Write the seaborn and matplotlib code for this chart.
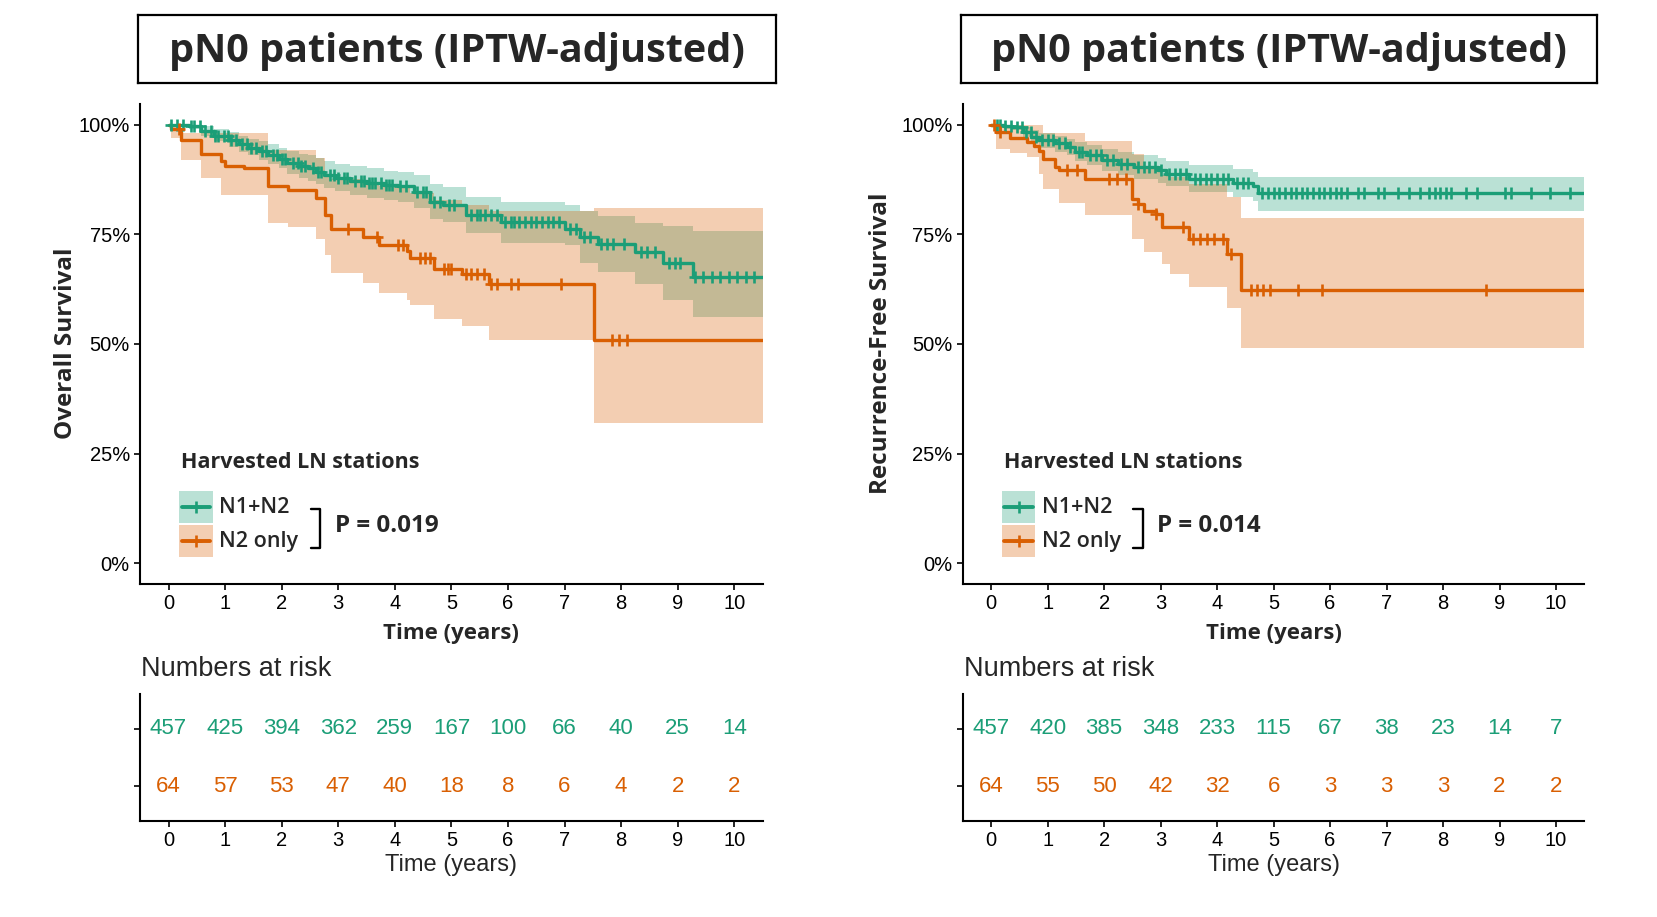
import numpy as np
import pandas as pd
import seaborn as sns
import matplotlib.pyplot as plt
from matplotlib.patches import Rectangle

GREEN = "#1B9E77"
ORANGE = "#D95F02"
BOLD = ["Open Sans", "DejaVu Sans"]

groups = ["N1+N2", "N2 only"]
risk_times = [0, 1, 2, 3, 4, 5, 6, 7, 8, 9, 10]

# ---- overall survival (left panel)
os_g_time = [0, 0.36, 0.57, 0.8, 1.06, 1.25, 1.41, 1.6, 1.76, 1.95, 2.1, 2.3, 2.46, 2.6, 2.74, 2.95,
             3.2, 3.5, 3.8, 4.06, 4.34, 4.62, 4.85, 5.25, 5.88, 7.0, 7.28, 7.59, 8.25, 8.74, 9.27, 10.5]
os_g_surv = [1.0, 0.996, 0.985, 0.975, 0.965, 0.955, 0.947, 0.94, 0.931, 0.922, 0.912, 0.905, 0.9, 0.893, 0.885, 0.878,
             0.872, 0.866, 0.862, 0.859, 0.847, 0.824, 0.817, 0.794, 0.779, 0.763, 0.744, 0.727, 0.71, 0.685, 0.653, 0.653]
os_g_upper = [1.0, 1.0, 0.997, 0.99, 0.982, 0.974, 0.968, 0.962, 0.955, 0.947, 0.94, 0.934, 0.93, 0.924, 0.917, 0.91,
              0.906, 0.9, 0.895, 0.892, 0.885, 0.865, 0.858, 0.836, 0.824, 0.817, 0.804, 0.792, 0.775, 0.77, 0.758, 0.758]
os_g_lower = [1.0, 0.99, 0.975, 0.962, 0.95, 0.938, 0.93, 0.92, 0.91, 0.9, 0.888, 0.878, 0.872, 0.864, 0.855, 0.848,
              0.84, 0.833, 0.828, 0.823, 0.81, 0.785, 0.777, 0.753, 0.73, 0.725, 0.685, 0.663, 0.637, 0.6, 0.561, 0.561]
os_g_cens = [0.05, 0.15, 0.25, 0.4, 0.45, 0.55, 0.65, 0.75, 0.82, 0.88, 0.98, 1.05, 1.1, 1.2, 1.3, 1.38, 1.45,
             1.55, 1.65, 1.72, 1.85, 1.92, 2.0, 2.05, 2.2, 2.28, 2.35, 2.42, 2.55, 2.65, 2.7, 2.85, 2.92, 3.0,
             3.1, 3.15, 3.3, 3.4, 3.45, 3.55, 3.6, 3.65, 3.75, 3.85, 3.9, 3.95, 4.1, 4.2, 4.4, 4.5, 4.55, 4.7,
             4.8, 4.95, 5.05, 5.35, 5.45, 5.5, 5.6, 5.7, 5.8, 5.95, 6.05, 6.1, 6.2, 6.3, 6.4, 6.5, 6.6, 6.7,
             6.8, 6.9, 7.1, 7.2, 7.35, 7.45, 7.65, 7.75, 7.85, 8.05, 8.35, 8.45, 8.6, 8.85, 8.95, 9.05, 9.3,
             9.45, 9.6, 9.75, 9.9, 10.05, 10.2, 10.35]

os_o_time = [0, 0.05, 0.22, 0.57, 0.92, 0.99, 1.34, 1.76, 2.11, 2.6, 2.77, 2.88, 3.44, 3.72, 4.21, 4.27,
             4.69, 5.18, 5.67, 7.52, 10.5]
os_o_surv = [1.0, 0.99, 0.966, 0.933, 0.916, 0.906, 0.901, 0.861, 0.851, 0.832, 0.794, 0.763, 0.744, 0.725, 0.713, 0.695,
             0.672, 0.66, 0.636, 0.509, 0.509]
os_o_upper = [1.0, 1.0, 0.98, 0.98, 0.98, 0.98, 0.98, 0.943, 0.943, 0.924, 0.885, 0.875, 0.866, 0.86, 0.855, 0.845,
              0.828, 0.817, 0.802, 0.811, 0.811]
os_o_lower = [1.0, 0.97, 0.92, 0.878, 0.84, 0.84, 0.84, 0.775, 0.767, 0.74, 0.702, 0.662, 0.639, 0.616, 0.6, 0.588,
              0.557, 0.542, 0.509, 0.319, 0.319]
os_o_cens = [0.19, 3.18, 3.68, 4.06, 4.15, 4.45, 4.53, 4.62, 4.87, 4.94, 5.0, 5.25, 5.35, 5.45, 5.57,
             5.7, 5.8, 6.05, 6.18, 6.93, 7.84, 7.97, 8.1]

os_risk_g = [457, 425, 394, 362, 259, 167, 100, 66, 40, 25, 14]
os_risk_o = [64, 57, 53, 47, 40, 18, 8, 6, 4, 2, 2]

# ---- recurrence-free survival (right panel)
rfs_g_time = [0, 0.22, 0.36, 0.57, 0.71, 0.85, 1.13, 1.34, 1.48, 1.69, 1.97, 2.25, 2.53, 2.95, 3.09, 3.51,
              4.28, 4.63, 4.73, 10.5]
rfs_g_surv = [1.0, 0.997, 0.995, 0.983, 0.972, 0.964, 0.957, 0.949, 0.938, 0.93, 0.919, 0.911, 0.903, 0.896, 0.888, 0.877,
              0.866, 0.859, 0.843, 0.843]
rfs_g_upper = [1.0, 1.0, 1.0, 0.995, 0.987, 0.981, 0.975, 0.968, 0.96, 0.953, 0.944, 0.937, 0.93, 0.924, 0.917, 0.907,
               0.898, 0.892, 0.88, 0.88]
rfs_g_lower = [1.0, 0.99, 0.987, 0.971, 0.957, 0.947, 0.938, 0.93, 0.916, 0.907, 0.894, 0.885, 0.876, 0.868, 0.859, 0.847,
               0.834, 0.826, 0.804, 0.804]
rfs_g_cens = [0.1, 0.15, 0.25, 0.35, 0.45, 0.55, 0.62, 0.7, 0.8, 0.9, 1.0, 1.1, 1.2, 1.3, 1.4, 1.55, 1.6, 1.75,
              1.85, 1.95, 2.05, 2.15, 2.3, 2.4, 2.6, 2.7, 2.8, 2.9, 3.0, 3.15, 3.25, 3.35, 3.45, 3.6, 3.7, 3.8,
              3.9, 4.0, 4.1, 4.2, 4.35, 4.45, 4.55, 4.8, 4.9, 5.0, 5.1, 5.2, 5.3, 5.4, 5.5, 5.6, 5.7, 5.8, 5.9,
              6.0, 6.1, 6.2, 6.3, 6.5, 6.6, 6.85, 6.95, 7.2, 7.4, 7.6, 7.75, 7.85, 7.95, 8.05, 8.15, 8.4, 8.6,
              9.1, 9.2, 9.55, 9.9, 10.25]

rfs_o_time = [0, 0.08, 0.33, 0.64, 0.75, 0.85, 0.92, 1.13, 1.2, 1.66, 2.5, 2.6, 2.71, 2.92, 3.02, 3.16,
              3.51, 4.17, 4.42, 10.5]
rfs_o_surv = [1.0, 0.983, 0.97, 0.96, 0.951, 0.94, 0.922, 0.903, 0.897, 0.875, 0.831, 0.82, 0.802, 0.797, 0.766, 0.766,
              0.739, 0.705, 0.622, 0.622]
rfs_o_upper = [1.0, 1.0, 1.0, 1.0, 1.0, 1.0, 0.98, 0.98, 0.98, 0.962, 0.932, 0.932, 0.905, 0.9, 0.885, 0.88,
               0.865, 0.835, 0.788, 0.788]
rfs_o_lower = [1.0, 0.945, 0.935, 0.926, 0.926, 0.888, 0.854, 0.854, 0.821, 0.793, 0.74, 0.74, 0.709, 0.709, 0.683, 0.66,
               0.629, 0.582, 0.491, 0.491]
rfs_o_cens = [0.05, 0.15, 1.34, 1.52, 2.08, 2.22, 2.39, 2.6, 2.92, 3.4, 3.58, 3.7, 3.82, 3.95, 4.1, 4.24,
              4.6, 4.7, 4.82, 4.94, 5.43, 5.85, 8.76]

rfs_risk_g = [457, 420, 385, 348, 233, 115, 67, 38, 23, 14, 7]
rfs_risk_o = [64, 55, 50, 42, 32, 6, 3, 3, 3, 2, 2]


def curve(name, color, t, s, lo, hi, cens):
    return dict(group=name, color=color, t=np.array(t), s=np.array(s),
                lo=np.array(lo), hi=np.array(hi), cens=np.array(cens))


os_curves = [curve(groups[0], GREEN, os_g_time, os_g_surv, os_g_lower, os_g_upper, os_g_cens),
             curve(groups[1], ORANGE, os_o_time, os_o_surv, os_o_lower, os_o_upper, os_o_cens)]
rfs_curves = [curve(groups[0], GREEN, rfs_g_time, rfs_g_surv, rfs_g_lower, rfs_g_upper, rfs_g_cens),
              curve(groups[1], ORANGE, rfs_o_time, rfs_o_surv, rfs_o_lower, rfs_o_upper, rfs_o_cens)]

sns.set_theme(style="ticks")
plt.rcParams["font.family"] = ["Liberation Sans", "DejaVu Sans"]
plt.rcParams["axes.linewidth"] = 1.5

fig = plt.figure(figsize=(16.58, 9.17), dpi=100)


def style_axis(ax):
    sns.despine(ax=ax)
    for sp in ["left", "bottom"]:
        ax.spines[sp].set_color("black")
        ax.spines[sp].set_linewidth(1.5)
    ax.tick_params(axis="both", length=4, width=1.2, pad=3.5, labelsize=14.5, colors="black")


def panel(x0, w, title, ylabel, ylab_x, curves, risk_g, risk_o, p_text):
    # title box
    tax = fig.add_axes([x0 - 0.0013, 0.909, w + 0.0093, 0.0748])
    tax.set_xticks([]); tax.set_yticks([])
    for sp in tax.spines.values():
        sp.set_linewidth(1.6); sp.set_color("black")
    tax.text(0.5, 0.47, title, ha="center", va="center", fontsize=28.5, fontweight="bold",
             family=BOLD, transform=tax.transAxes)

    # survival curves
    ax = fig.add_axes([x0, 0.3636, w, 0.5235])
    for c in curves:
        ax.fill_between(c["t"], c["lo"], c["hi"], step="post", color=c["color"], alpha=0.3, lw=0)
    for c in curves:
        df = pd.DataFrame({"time": c["t"], "surv": c["s"]})
        sns.lineplot(data=df, x="time", y="surv", ax=ax, color=c["color"], lw=2.4,
                     drawstyle="steps-post", estimator=None, sort=False, legend=False)
        idx = np.searchsorted(c["t"], c["cens"], side="right") - 1
        sns.scatterplot(x=c["cens"], y=c["s"][idx], ax=ax, marker="+", s=80,
                        color=c["color"], linewidth=1.9, legend=False, zorder=3)
    ax.set_xlim(-0.5, 10.5)
    ax.set_ylim(-0.046, 1.048)
    ax.set_xticks(risk_times)
    ax.set_yticks([0, 0.25, 0.5, 0.75, 1.0])
    ax.set_yticklabels(["0%", "25%", "50%", "75%", "100%"])
    ax.set_xlabel(""); ax.set_ylabel("")
    style_axis(ax)
    ax.text(ylab_x, 0.5, ylabel, transform=ax.transAxes, rotation=90, ha="center", va="center",
            fontsize=17.5, fontweight="bold", family=BOLD)
    ax.text(0.5, -0.105, "Time (years)", transform=ax.transAxes, ha="center", va="center",
            fontsize=16, fontweight="bold", family=BOLD)

    # legend drawn inside the panel
    ax.text(0.22, 0.23, "Harvested LN stations", ha="left", va="center", fontsize=15.5,
            fontweight="bold", family=BOLD)
    for yc, c in zip([0.128, 0.051], curves):
        ax.add_patch(Rectangle((0.19, yc - 0.036), 0.59, 0.072, facecolor=c["color"], alpha=0.3, lw=0))
        ax.plot([0.23, 0.74], [yc, yc], color=c["color"], lw=2.8)
        ax.plot([0.485], [yc], marker="+", ms=9, mew=1.9, color=c["color"])
        ax.text(0.9, yc, c["group"], ha="left", va="center", fontsize=15.5, family=BOLD,
                fontweight="semibold")
    ax.plot([2.51, 2.68, 2.68, 2.51], [0.1235, 0.1235, 0.036, 0.036], color="black", lw=1.7)
    ax.text(2.94, 0.086, p_text, ha="left", va="center", fontsize=17.5, fontweight="bold", family=BOLD)

    # numbers at risk table
    rax = fig.add_axes([x0, 0.1047, w, 0.138])
    rows = pd.DataFrame({"time": risk_times * 2, "n": risk_g + risk_o,
                         "row": [1] * len(risk_g) + [0] * len(risk_o),
                         "color": [GREEN] * len(risk_g) + [ORANGE] * len(risk_o)})
    for _, r in rows.iterrows():
        rax.text(r["time"], r["row"], str(r["n"]), ha="center", va="center", fontsize=16, color=r["color"])
    rax.set_xlim(-0.5, 10.5)
    rax.set_ylim(-0.6, 1.6)
    rax.set_xticks(risk_times)
    rax.set_yticks([0, 1])
    rax.set_yticklabels([])
    style_axis(rax)
    rax.text(0.5, -0.345, "Time (years)", transform=rax.transAxes, ha="center", va="center", fontsize=17)
    fig.text(x0 + 0.0006, 0.2705, "Numbers at risk", ha="left", va="center", fontsize=19.5)


panel(0.0846, 0.3753, "pN0 patients (IPTW-adjusted)", "Overall Survival", -0.119,
      os_curves, os_risk_g, os_risk_o, "P = 0.019")
panel(0.5808, 0.3747, "pN0 patients (IPTW-adjusted)", "Recurrence-Free Survival", -0.132,
      rfs_curves, rfs_risk_g, rfs_risk_o, "P = 0.014")

fig.savefig("out.png", dpi=100, facecolor="white")
